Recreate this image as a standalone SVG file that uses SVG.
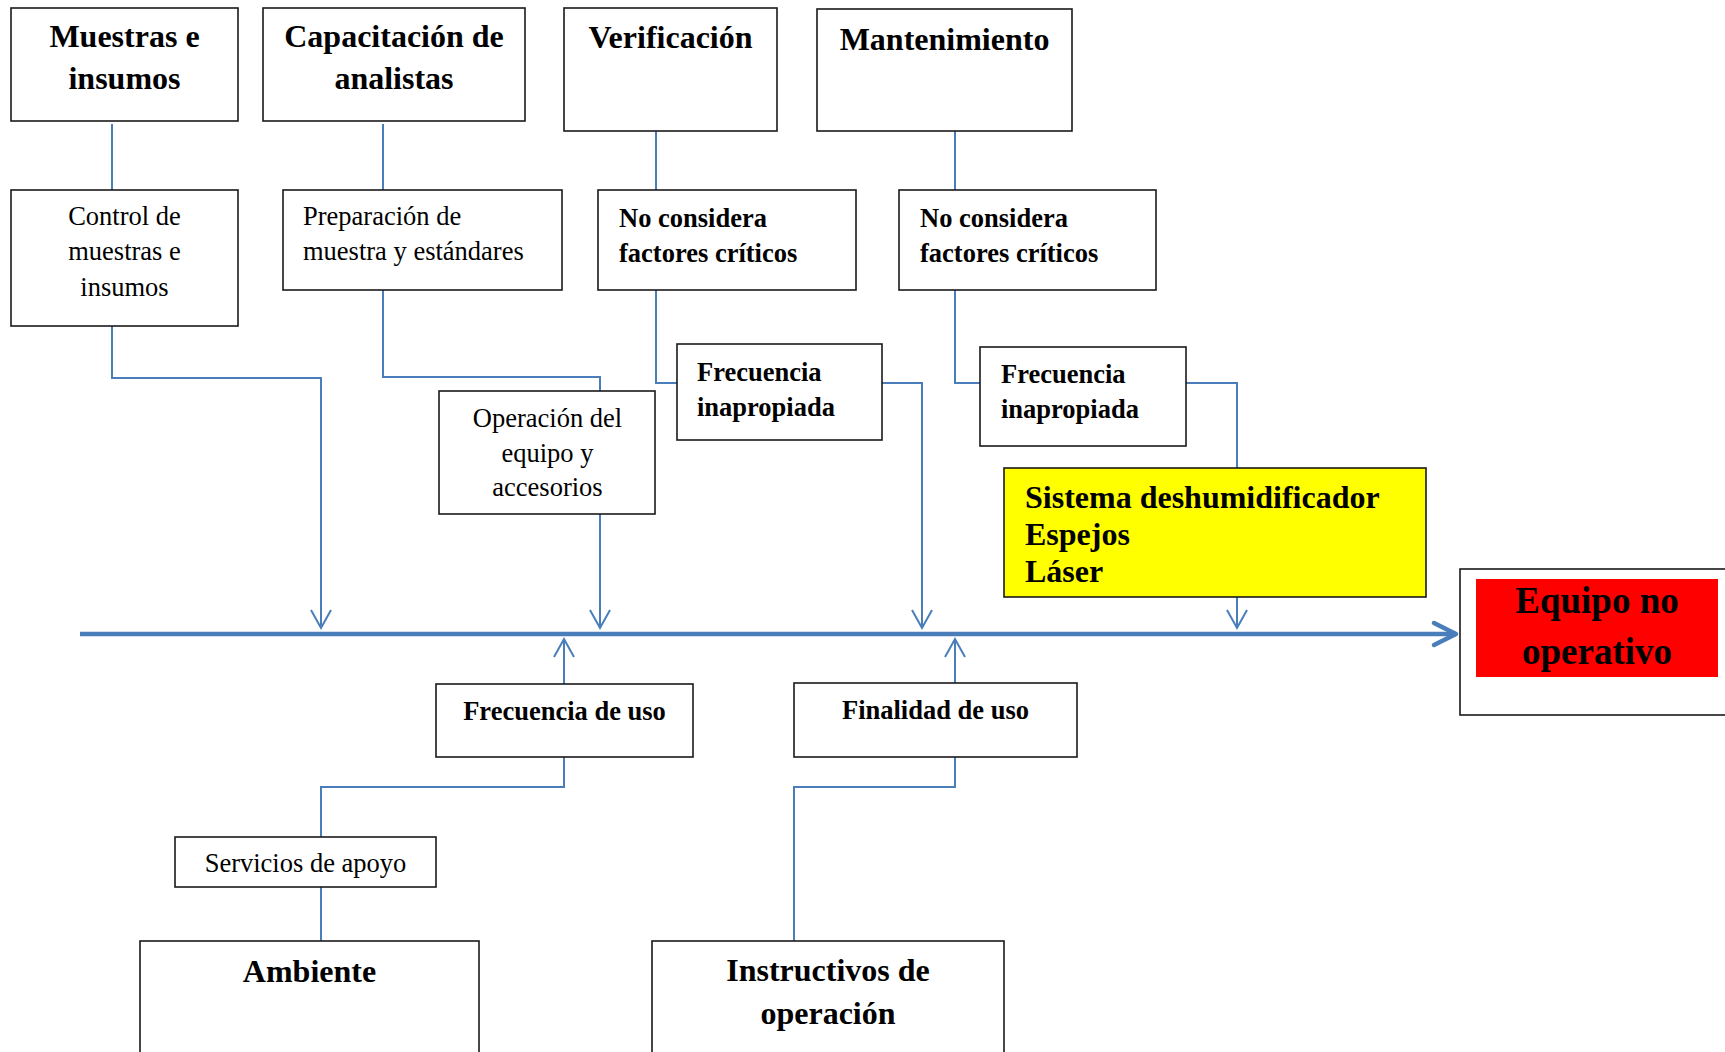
<svg xmlns="http://www.w3.org/2000/svg" width="1725" height="1052" viewBox="0 0 1725 1052">
  <style>
    .box { fill: #ffffff; stroke: #1a1a1a; stroke-width: 1.6; }
    .yellow { fill: #ffff00; stroke: #1a1a1a; stroke-width: 1.6; }
    .red { fill: #ff0000; stroke: none; }
    .conn { fill: none; stroke: #4a7ebb; stroke-width: 2; }
    .axis { fill: none; stroke: #4a7ebb; stroke-width: 4.5; }
    text { font-family: "Liberation Serif", "Times New Roman", serif; fill: #000000; }
    .h { font-size: 32px; font-weight: bold; }
    .b { font-size: 26.5px; font-weight: bold; }
    .r { font-size: 26.5px; }
    .big { font-size: 37px; font-weight: bold; }
    .c { text-anchor: middle; }
  </style>
  <defs>
    <marker id="arr" markerUnits="userSpaceOnUse" markerWidth="22" markerHeight="24" refX="18" refY="11" orient="auto" overflow="visible">
      <path d="M0,1 L18,11 L0,21" fill="none" stroke="#4a7ebb" stroke-width="2"/>
    </marker>
    <marker id="head" markerUnits="userSpaceOnUse" markerWidth="30" markerHeight="30" refX="25" refY="15" orient="auto" overflow="visible">
      <path d="M3,4 L25,15 L3,26" fill="none" stroke="#4a7ebb" stroke-width="4.5" stroke-linecap="round" stroke-linejoin="round"/>
    </marker>
  </defs>

  <rect width="1725" height="1052" fill="#ffffff"/>

  <!-- connectors -->
  <g id="connectors">
    <path class="axis" d="M80,634 H1456" marker-end="url(#head)"/>
    <path class="conn" d="M112,124 V190"/>
    <path class="conn" d="M112,326 V378 H321 V628" marker-end="url(#arr)"/>
    <path class="conn" d="M383,124 V190"/>
    <path class="conn" d="M383,290 V377 H600 V391"/>
    <path class="conn" d="M600,514 V628" marker-end="url(#arr)"/>
    <path class="conn" d="M656,131 V190"/>
    <path class="conn" d="M656,290 V383 H677"/>
    <path class="conn" d="M882,383 H922 V628" marker-end="url(#arr)"/>
    <path class="conn" d="M955,131 V190"/>
    <path class="conn" d="M955,290 V383 H980"/>
    <path class="conn" d="M1186,383 H1237 V468"/>
    <path class="conn" d="M1237,597 V628" marker-end="url(#arr)"/>
    <path class="conn" d="M564,684 V639" marker-end="url(#arr)"/>
    <path class="conn" d="M564,757 V787 H321 V837"/>
    <path class="conn" d="M321,887 V941"/>
    <path class="conn" d="M955,683 V639" marker-end="url(#arr)"/>
    <path class="conn" d="M955,757 V787 H794 V941"/>
  </g>

  <!-- top causes -->
  <g id="muestras">
    <rect class="box" x="11" y="8" width="227" height="113"/>
    <text class="h c" x="124.5" y="47">Muestras e</text>
    <text class="h c" x="124.5" y="89">insumos</text>
  </g>
  <g id="capacitacion">
    <rect class="box" x="263" y="8" width="262" height="113"/>
    <text class="h c" x="394" y="47">Capacitación de</text>
    <text class="h c" x="394" y="89">analistas</text>
  </g>
  <g id="verificacion">
    <rect class="box" x="564" y="8" width="213" height="123"/>
    <text class="h c" x="670.5" y="48">Verificación</text>
  </g>
  <g id="mantenimiento">
    <rect class="box" x="817" y="9" width="255" height="122"/>
    <text class="h c" x="944.5" y="50">Mantenimiento</text>
  </g>

  <!-- second level -->
  <g id="control">
    <rect class="box" x="11" y="190" width="227" height="136"/>
    <text class="r c" x="124.5" y="225">Control de</text>
    <text class="r c" x="124.5" y="260">muestras e</text>
    <text class="r c" x="124.5" y="296">insumos</text>
  </g>
  <g id="preparacion">
    <rect class="box" x="283" y="190" width="279" height="100"/>
    <text class="r" x="303" y="225">Preparación de</text>
    <text class="r" x="303" y="260">muestra y estándares</text>
  </g>
  <g id="noconsidera-v">
    <rect class="box" x="598" y="190" width="258" height="100"/>
    <text class="b" x="619" y="227">No considera</text>
    <text class="b" x="619" y="262">factores críticos</text>
  </g>
  <g id="noconsidera-m">
    <rect class="box" x="899" y="190" width="257" height="100"/>
    <text class="b" x="920" y="227">No considera</text>
    <text class="b" x="920" y="262">factores críticos</text>
  </g>

  <!-- third level -->
  <g id="operacion">
    <rect class="box" x="439" y="391" width="216" height="123"/>
    <text class="r c" x="547.5" y="427">Operación del</text>
    <text class="r c" x="547.5" y="462">equipo y</text>
    <text class="r c" x="547.5" y="496">accesorios</text>
  </g>
  <g id="frecuencia-v">
    <rect class="box" x="677" y="344" width="205" height="96"/>
    <text class="b" x="697" y="381">Frecuencia</text>
    <text class="b" x="697" y="416">inapropiada</text>
  </g>
  <g id="frecuencia-m">
    <rect class="box" x="980" y="347" width="206" height="99"/>
    <text class="b" x="1001" y="383">Frecuencia</text>
    <text class="b" x="1001" y="418">inapropiada</text>
  </g>
  <g id="componentes">
    <rect class="yellow" x="1004" y="468" width="422" height="129"/>
    <text class="h" x="1025" y="508">Sistema deshumidificador</text>
    <text class="h" x="1025" y="545">Espejos</text>
    <text class="h" x="1025" y="582">Láser</text>
  </g>

  <!-- effect -->
  <g id="efecto">
    <rect class="box" x="1460" y="569" width="275" height="146"/>
    <rect class="red" x="1476" y="579" width="242" height="98"/>
    <text class="big c" x="1597" y="613">Equipo no</text>
    <text class="big c" x="1597" y="664">operativo</text>
  </g>

  <!-- bottom causes -->
  <g id="frecuencia-uso">
    <rect class="box" x="436" y="684" width="257" height="73"/>
    <text class="b c" x="564.5" y="720">Frecuencia de uso</text>
  </g>
  <g id="finalidad-uso">
    <rect class="box" x="794" y="683" width="283" height="74"/>
    <text class="b c" x="935.5" y="719">Finalidad de uso</text>
  </g>
  <g id="servicios">
    <rect class="box" x="175" y="837" width="261" height="50"/>
    <text class="r c" x="305.5" y="872">Servicios de apoyo</text>
  </g>
  <g id="ambiente">
    <rect class="box" x="140" y="941" width="339" height="130"/>
    <text class="h c" x="309.5" y="982">Ambiente</text>
  </g>
  <g id="instructivos">
    <rect class="box" x="652" y="941" width="352" height="130"/>
    <text class="h c" x="828" y="981">Instructivos de</text>
    <text class="h c" x="828" y="1024">operación</text>
  </g>
</svg>
